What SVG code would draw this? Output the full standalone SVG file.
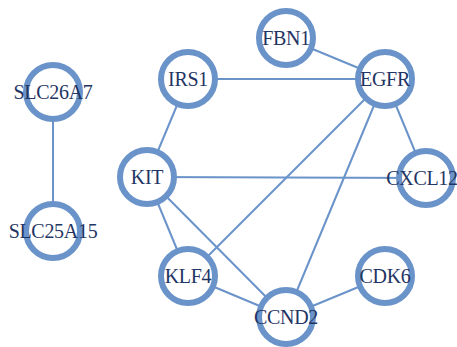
<svg xmlns="http://www.w3.org/2000/svg" width="457" height="347" viewBox="0 0 457 347">
<style>
.e{stroke:#6a93c9;stroke-width:2;fill:none}
.n circle{fill:#fff;stroke:#6a93c9;stroke-width:6}
.n text{font-family:'Liberation Serif','DejaVu Serif',serif;font-size:20px;fill:#1f3563;text-anchor:middle;letter-spacing:-0.3px}
</style>
<rect width="457" height="347" fill="#fff"/>
<g id="edges">
<line class="e" x1="53" y1="92" x2="53" y2="231"/>
<line class="e" x1="286" y1="38" x2="385" y2="79"/>
<line class="e" x1="188" y1="79" x2="385" y2="79"/>
<line class="e" x1="188" y1="79" x2="147" y2="177"/>
<line class="e" x1="385" y1="79" x2="188" y2="276"/>
<line class="e" x1="385" y1="79" x2="286" y2="317"/>
<line class="e" x1="385" y1="79" x2="426" y2="178"/>
<line class="e" x1="147" y1="177" x2="426" y2="178"/>
<line class="e" x1="147" y1="177" x2="188" y2="276"/>
<line class="e" x1="147" y1="177" x2="286" y2="317"/>
<line class="e" x1="188" y1="276" x2="286" y2="317"/>
<line class="e" x1="385" y1="276" x2="286" y2="317"/>
</g>
<g id="SLC26A7" class="n"><circle cx="53" cy="92" r="27"/><text x="53" y="99">SLC26A7</text></g>
<g id="SLC25A15" class="n"><circle cx="53" cy="231" r="27"/><text x="53" y="238">SLC25A15</text></g>
<g id="FBN1" class="n"><circle cx="286" cy="38" r="27"/><text x="286" y="45">FBN1</text></g>
<g id="IRS1" class="n"><circle cx="188" cy="79" r="27"/><text x="188" y="86">IRS1</text></g>
<g id="EGFR" class="n"><circle cx="385" cy="79" r="27"/><text x="385" y="86">EGFR</text></g>
<g id="KIT" class="n"><circle cx="147" cy="177" r="27"/><text x="147" y="184">KIT</text></g>
<g id="CXCL12" class="n"><circle cx="426" cy="178" r="27"/><text x="422" y="185">CXCL12</text></g>
<g id="KLF4" class="n"><circle cx="188" cy="276" r="27"/><text x="188" y="283">KLF4</text></g>
<g id="CDK6" class="n"><circle cx="385" cy="276" r="27"/><text x="385" y="283">CDK6</text></g>
<g id="CCND2" class="n"><circle cx="286" cy="317" r="27"/><text x="286" y="324">CCND2</text></g>
</svg>
